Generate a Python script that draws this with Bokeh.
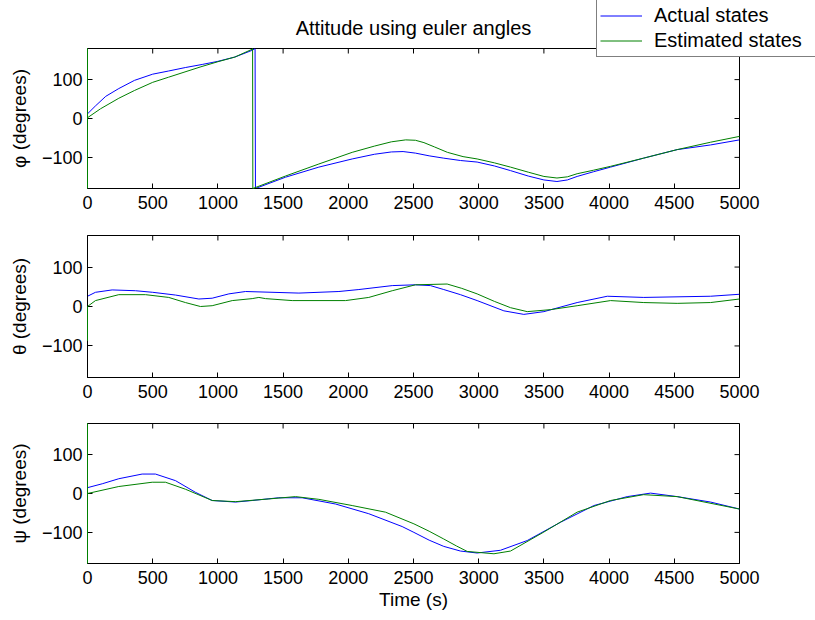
from bokeh.plotting import figure
from bokeh.layouts import column
from bokeh.models import Range1d, FixedTicker, Legend, LegendItem
from bokeh.core.properties import value
from bokeh.embed import file_html
from bokeh.resources import INLINE

FONT = "Liberation Sans"
BLUE = "#0000FF"
GREEN = "#008000"

x_ticks = [0, 500, 1000, 1500, 2000, 2500, 3000, 3500, 4000, 4500, 5000]
y_ticks = [-100, 0, 100]

title_text = "Attitude using euler angles"
series_names = ["Actual states", "Estimated states"]
y_labels = ["\u03c6 (degrees)", "\u03b8 (degrees)", "\u03c8 (degrees)"]
x_label = "Time (s)"

# phi (roll), degrees
phi_act_t = [0, 60, 140, 240, 360, 500, 620, 750, 880, 1000, 1130, 1260, 1285, 1288,
             1518, 1774, 2030, 2200, 2330, 2420, 2515, 2620, 2732, 2860, 2988, 3120, 3244,
             3380, 3500, 3600, 3680, 3755, 3880, 4011, 4264, 4522, 4778, 5000]
phi_act = [12, 32, 57, 77, 98, 114, 122, 131, 139, 147, 158, 175, 180, -180,
           -151, -125, -104, -92, -86, -85, -89, -96, -102, -108, -112, -122, -134,
           -148, -158, -162, -158, -149, -137, -125, -102, -80, -68, -55]
phi_est_t = [0, 0, 0, 100, 240, 360, 500, 620, 740, 870, 1000, 1130, 1262, 1266, 1268,
             1518, 1774, 2030, 2200, 2330, 2440, 2515, 2580, 2660, 2760, 2880, 2988, 3120,
             3244, 3380, 3500, 3600, 3680, 3755, 3880, 4011, 4264, 4522, 4778, 5000]
phi_est = [-180, 180, 2, 25, 52, 72, 93, 106, 119, 133, 146, 158, 178, 180, -180,
           -148, -117, -87, -71, -60, -55, -56, -62, -73, -87, -98, -104, -114,
           -125, -138, -149, -153, -150, -142, -133, -123, -102, -80, -61, -46]

# theta (pitch), degrees
theta_act_t = [0, 61, 189, 368, 500, 675, 854, 956, 1084, 1212, 1621, 1928, 2081, 2337,
               2515, 2630, 2732, 2860, 2988, 3193, 3346, 3500, 3755, 3986, 4266, 4778, 5000]
theta_act = [26, 36, 42, 40, 36, 29, 19, 21, 32, 38, 34, 38, 43, 53,
             55, 53, 43, 30, 15, -11, -20, -13, 10, 26, 23, 26, 31]
theta_est_t = [0, 0, 61, 240, 445, 623, 751, 866, 956, 1110, 1263, 1314, 1365, 1570, 1979,
               2157, 2337, 2515, 2758, 2870, 2988, 3120, 3244, 3372, 3551, 3755, 4011,
               4266, 4522, 4778, 5000]
theta_est = [-87, 0, 15, 30, 30, 23, 10, 0, 2, 15, 20, 23, 20, 15, 15,
             23, 40, 55, 57, 46, 32, 13, -3, -13, -8, 2, 15, 10, 8, 10, 19]

# psi (yaw), degrees
psi_act_t = [0, 113, 240, 419, 521, 675, 828, 956, 1135, 1263, 1467, 1646, 1902, 2157,
             2413, 2503, 2620, 2732, 2860, 2988, 3167, 3372, 3627, 3883, 4139, 4318, 4522,
             4778, 5000]
psi_act = [15, 25, 38, 50, 50, 33, 3, -18, -22, -18, -11, -11, -27, -52,
           -85, -100, -120, -136, -148, -153, -146, -121, -74, -31, -8, 1, -8, -22, -40]
psi_est_t = [0, 0, 0, 240, 496, 598, 751, 956, 1135, 1390, 1595, 1774, 2030, 2285,
             2503, 2620, 2732, 2830, 2912, 3117, 3244, 3500, 3755, 4011, 4264, 4522, 5000]
psi_est = [-180, 180, 0, 18, 29, 29, 11, -18, -21, -14, -8, -15, -31, -48,
           -78, -97, -117, -135, -149, -155, -148, -99, -48, -18, -3, -8, -40]

panels = [
    (phi_act_t, phi_act, phi_est_t, phi_est),
    (theta_act_t, theta_act, theta_est_t, theta_est),
    (psi_act_t, psi_act, psi_est_t, psi_est),
]
# (top border, frame height, bottom border)
geoms = [(0, 140, 34), (13, 142, 34), (12, 140, 57)]
TICK_PX = 5
HEAD_H = 58      # header canvas height; it overlaps the first panel by 10 px
OVERLAP = 10

# header: title and legend (canvas-pixel data coordinates), transparent background
head = figure(width=815, height=HEAD_H,
              min_border_left=0, min_border_right=0, min_border_top=0, min_border_bottom=0,
              x_range=Range1d(0, 815), y_range=Range1d(0, HEAD_H),
              x_axis_type=None, y_axis_type=None, title=None,
              output_backend="svg", toolbar_location=None)
head.xgrid.visible = False
head.ygrid.visible = False
head.outline_line_color = None
head.background_fill_alpha = 0
head.border_fill_alpha = 0
head.margin = (0, 0, -OVERLAP, 0)
head.styles = {"z-index": "5", "position": "relative"}
head.text(x=[413], y=[HEAD_H - 27], text=[title_text], text_font=value(FONT),
          text_font_size="20px", text_color="black",
          text_align="center", text_baseline="middle")
nan = float("nan")
key_act = head.line(x=[nan], y=[nan], line_color=BLUE, line_width=1)
key_est = head.line(x=[nan], y=[nan], line_color=GREEN, line_width=1)
legend = Legend(items=[LegendItem(label=series_names[0], renderers=[key_act]),
                       LegendItem(label=series_names[1], renderers=[key_est])],
                location=(596, 1), orientation="vertical",
                label_text_font=FONT, label_text_font_size="20px",
                label_text_color="black",
                label_height=25, label_width=158, label_standoff=12,
                glyph_width=42, glyph_height=25,
                spacing=0, padding=3, margin=0,
                border_line_color="black", border_line_width=1,
                background_fill_color="white", background_fill_alpha=1.0)
head.add_layout(legend, "center")

figs = []
for i, ((ta, va, te, ve), (tb, fh, bb)) in enumerate(zip(panels, geoms)):
    p = figure(frame_width=652, frame_height=fh, title=None,
               min_border_left=87, min_border_right=76,
               min_border_top=tb, min_border_bottom=bb,
               x_range=Range1d(0, 5000), y_range=Range1d(-180, 180),
               output_backend="svg", toolbar_location=None)
    p.xgrid.visible = False
    p.ygrid.visible = False
    p.outline_line_color = "black"
    p.outline_line_width = 1
    p.background_fill_color = "white"
    p.border_fill_color = "white"

    for ax in (p.xaxis[0], p.yaxis[0]):
        ax.major_tick_in = TICK_PX
        ax.major_tick_out = 0
        ax.minor_tick_in = 0
        ax.minor_tick_out = 0
        ax.axis_line_color = "black"
        ax.major_tick_line_color = "black"
        ax.major_label_text_font = FONT
        ax.major_label_text_font_size = "18px"
        ax.major_label_text_color = "black"
        ax.axis_label_text_font = FONT
        ax.axis_label_text_font_size = "19px"
        ax.axis_label_text_font_style = "normal"
        ax.axis_label_text_color = "black"
    p.xaxis[0].ticker = FixedTicker(ticks=x_ticks)
    p.yaxis[0].ticker = FixedTicker(ticks=y_ticks)
    p.xaxis[0].major_label_standoff = 7
    p.yaxis[0].major_label_standoff = 5
    p.yaxis[0].axis_label = y_labels[i]
    p.yaxis[0].axis_label_standoff = 9
    if i == 2:
        p.xaxis[0].axis_label = x_label
        p.xaxis[0].axis_label_standoff = 2

    # inward ticks on the top and right edges of the box
    dy = TICK_PX * 360.0 / fh
    dx = TICK_PX * 5000.0 / 652
    p.segment(x0=x_ticks, y0=[180] * len(x_ticks), x1=x_ticks, y1=[180 - dy] * len(x_ticks),
              line_color="black", line_width=1)
    p.segment(x0=[5000] * len(y_ticks), y0=y_ticks, x1=[5000 - dx] * len(y_ticks), y1=y_ticks,
              line_color="black", line_width=1)

    p.line(ta, va, line_color=BLUE, line_width=1)
    p.line(te, ve, line_color=GREEN, line_width=1, level="overlay")
    figs.append(p)

layout = column(head, column(*figs, spacing=0), spacing=0)
open("out.html", "w").write(file_html(layout, INLINE))
